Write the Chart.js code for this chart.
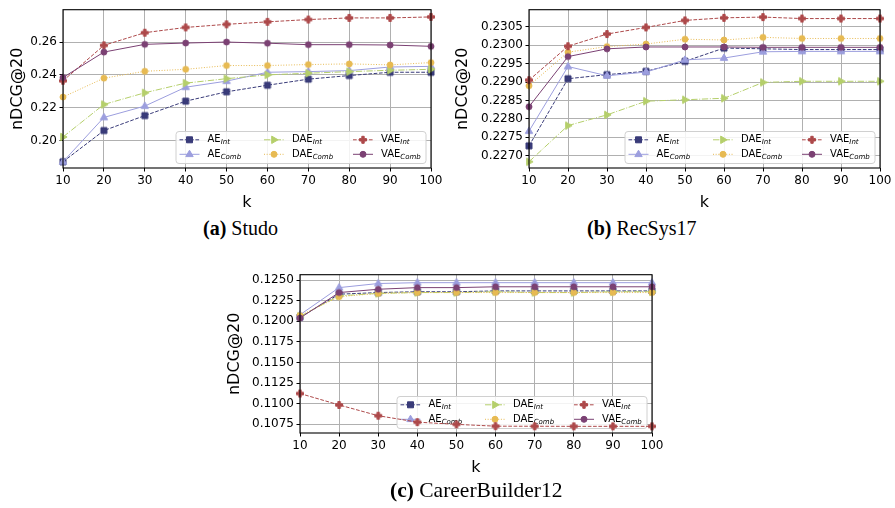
<!DOCTYPE html>
<html>
<head>
<meta charset="utf-8">
<script src="https://cdn.jsdelivr.net/npm/chart.js@4.4.0/dist/chart.umd.min.js"></script>
<style>
  body { margin: 0; background: #fff; width: 895px; height: 508px; position: relative; overflow: hidden; }
  canvas { position: absolute; }
  .caption {
    position: absolute;
    font-family: "Liberation Serif", "Times New Roman", serif;
    font-size: 20px;
    line-height: 20px;
    white-space: nowrap;
    color: #000;
  }
</style>
</head>
<body>
<canvas id="chart-studo" width="445" height="215" style="left:0;top:0"></canvas>
<canvas id="chart-recsys" width="445" height="215" style="left:450px;top:0"></canvas>
<canvas id="chart-career" width="445" height="215" style="left:222px;top:265px"></canvas>
<div class="caption" style="left:203px;top:218px"><b>(a)</b> Studo</div>
<div class="caption" style="left:587px;top:218px"><b>(b)</b> RecSys17</div>
<div class="caption" style="left:390px;top:480px;font-size:21.5px;line-height:21.5px"><b>(c)</b> CareerBuilder12</div>

<script>
// data
const kValues = [10, 20, 30, 40, 50, 60, 70, 80, 90, 100];
const seriesBase = ['AE', 'AE', 'DAE', 'DAE', 'VAE', 'VAE'];
const seriesSub = ['Int', 'Comb', 'Int', 'Comb', 'Int', 'Comb'];

// (a) Studo
const studoAeInt = [0.1871, 0.2061, 0.2152, 0.2240, 0.2297, 0.2337, 0.2374, 0.2396, 0.2416, 0.2416];
const studoAeComb = [0.1871, 0.2141, 0.2210, 0.2325, 0.2362, 0.2416, 0.2420, 0.2426, 0.2448, 0.2452];
const studoDaeInt = [0.2022, 0.2220, 0.2291, 0.2350, 0.2377, 0.2400, 0.2410, 0.2420, 0.2428, 0.2434];
const studoDaeComb = [0.2265, 0.2380, 0.2422, 0.2434, 0.2457, 0.2457, 0.2463, 0.2467, 0.2461, 0.2475];
const studoVaeInt = [0.2364, 0.2580, 0.2657, 0.2689, 0.2708, 0.2723, 0.2737, 0.2747, 0.2747, 0.2753];
const studoVaeComb = [0.2384, 0.2539, 0.2586, 0.2594, 0.2600, 0.2593, 0.2584, 0.2584, 0.2582, 0.2574];
const studoTicks = [0.20, 0.22, 0.24, 0.26];

// (b) RecSys17
const recsysAeInt = [0.22727, 0.22909, 0.22920, 0.22929, 0.22956, 0.22992, 0.22990, 0.22988, 0.22988, 0.22988];
const recsysAeComb = [0.22767, 0.22942, 0.22917, 0.22927, 0.22960, 0.22965, 0.22982, 0.22983, 0.22983, 0.22983];
const recsysDaeInt = [0.22684, 0.22782, 0.22811, 0.22848, 0.22852, 0.22856, 0.22899, 0.22902, 0.22902, 0.22902];
const recsysDaeComb = [0.22890, 0.22981, 0.22996, 0.23003, 0.23016, 0.23014, 0.23021, 0.23018, 0.23018, 0.23018];
const recsysVaeInt = [0.22905, 0.22997, 0.23030, 0.23048, 0.23067, 0.23074, 0.23076, 0.23072, 0.23072, 0.23072];
const recsysVaeComb = [0.22833, 0.22969, 0.22990, 0.22995, 0.22995, 0.22995, 0.22994, 0.22994, 0.22994, 0.22994];
const recsysTicks = [0.2270, 0.2275, 0.2280, 0.2285, 0.2290, 0.2295, 0.2300, 0.2305];

// (c) CareerBuilder12
const careerAeInt = [0.1205, 0.1233, 0.1235, 0.1236, 0.1236, 0.1237, 0.1237, 0.1237, 0.1237, 0.1237];
const careerAeComb = [0.1208, 0.1241, 0.1246, 0.1247, 0.1247, 0.1247, 0.1247, 0.1247, 0.1247, 0.1247];
const careerDaeInt = [0.1206, 0.1231, 0.1234, 0.1235, 0.1235, 0.1236, 0.1235, 0.1235, 0.1236, 0.1236];
const careerDaeComb = [0.1207, 0.1230, 0.1234, 0.1235, 0.1235, 0.1235, 0.1235, 0.1235, 0.1235, 0.1235];
const careerVaeInt = [0.11123, 0.10984, 0.10853, 0.10775, 0.10748, 0.10726, 0.10725, 0.10724, 0.10724, 0.10724];
const careerVaeComb = [0.1204, 0.1235, 0.1239, 0.1241, 0.1241, 0.1242, 0.1242, 0.1242, 0.1242, 0.1242];
const careerTicks = [0.1075, 0.1100, 0.1125, 0.1150, 0.1175, 0.1200, 0.1225, 0.1250];

// styles
const G_FONT = '"DejaVu Sans", Arial, sans-serif';
const gStyles = [
  { color: '#393b79', dash: [3.7, 1.6], marker: 'square' },
  { color: '#9c9ede', dash: [], marker: 'triUp' },
  { color: '#b5cf6b', dash: [6.4, 1.6, 1, 1.6], marker: 'triRight' },
  { color: '#e7ba52', dash: [1, 1.65], marker: 'circle' },
  { color: '#ad494a', dash: [3.7, 1.6], marker: 'plus' },
  { color: '#7b4173', dash: [], marker: 'circle' },
];

// draw one marker shape
function drawMarker(ctx, type, x, y, color) {
  ctx.save();
  ctx.fillStyle = color;
  ctx.strokeStyle = color;
  ctx.lineWidth = 1;
  ctx.setLineDash([]);
  ctx.beginPath();
  if (type === 'square') {
    ctx.rect(x - 3, y - 3, 6, 6);
  } else if (type === 'circle') {
    ctx.arc(x, y, 3, 0, Math.PI * 2);
  } else if (type === 'triUp') {
    ctx.moveTo(x, y - 4.1);
    ctx.lineTo(x + 3.7, y + 2.3);
    ctx.lineTo(x - 3.7, y + 2.3);
    ctx.closePath();
  } else if (type === 'triRight') {
    ctx.moveTo(x + 4.1, y);
    ctx.lineTo(x - 2.3, y - 3.7);
    ctx.lineTo(x - 2.3, y + 3.7);
    ctx.closePath();
  } else if (type === 'plus') {
    const a = 3.5, b = 1.2;
    ctx.moveTo(x - b, y - a);
    ctx.lineTo(x + b, y - a);
    ctx.lineTo(x + b, y - b);
    ctx.lineTo(x + a, y - b);
    ctx.lineTo(x + a, y + b);
    ctx.lineTo(x + b, y + b);
    ctx.lineTo(x + b, y + a);
    ctx.lineTo(x - b, y + a);
    ctx.lineTo(x - b, y + b);
    ctx.lineTo(x - a, y + b);
    ctx.lineTo(x - a, y - b);
    ctx.lineTo(x - b, y - b);
    ctx.closePath();
  }
  ctx.fill();
  ctx.stroke();
  ctx.restore();
}

// marker image for chart.js pointStyle
function makeMarkerCanvas(type, color) {
  const vCanvas = document.createElement('canvas');
  vCanvas.width = 12;
  vCanvas.height = 12;
  drawMarker(vCanvas.getContext('2d'), type, 6, 6, color);
  return vCanvas;
}

// axes frame
const framePlugin = {
  id: 'frame',
  afterDatasetsDraw(chart) {
    const { ctx, chartArea: a } = chart;
    ctx.save();
    ctx.strokeStyle = '#000';
    ctx.lineWidth = 1.1;
    ctx.strokeRect(a.left, a.top, a.right - a.left, a.bottom - a.top);
    ctx.restore();
  },
};

// legend in 3 columns, lower right (under the lines, over the grid)
const boxLegendPlugin = {
  id: 'boxLegend',
  beforeDatasetsDraw(chart) {
    const { ctx, chartArea: a } = chart;
    const w = 250, h = 32;
    const L = a.right - 5 - w, T = a.bottom - 4.5 - h;
    ctx.save();
    ctx.beginPath();
    ctx.roundRect(L, T, w, h, 3);
    ctx.fillStyle = 'rgba(255,255,255,0.85)';
    ctx.fill();
    ctx.strokeStyle = '#d0d0d0';
    ctx.lineWidth = 1;
    ctx.stroke();
    const colX = [3.5, 88, 177];
    const rowY = [8.3, 22.8];
    for (let i = 0; i < 6; i++) {
      const s = gStyles[i];
      const x0 = L + colX[Math.floor(i / 2)];
      const y0 = T + rowY[i % 2];
      ctx.beginPath();
      ctx.setLineDash(s.dash);
      ctx.strokeStyle = s.color;
      ctx.lineWidth = 1;
      ctx.moveTo(x0, y0);
      ctx.lineTo(x0 + 20, y0);
      ctx.stroke();
      ctx.setLineDash([]);
      drawMarker(ctx, s.marker, x0 + 10, y0, s.color);
      ctx.fillStyle = '#000';
      ctx.textBaseline = 'middle';
      ctx.textAlign = 'left';
      ctx.font = '10px ' + G_FONT;
      ctx.fillText(seriesBase[i], x0 + 28, y0);
      const bw = ctx.measureText(seriesBase[i]).width;
      ctx.font = 'italic 7px ' + G_FONT;
      ctx.fillText(seriesSub[i], x0 + 28 + bw, y0 + 2.5);
    }
    ctx.restore();
  },
};

function buildChart(pCanvasId, pSeries, pTicks, pMin, pMax, pDecimals, pLayout) {
  const vDatasets = pSeries.map((values, i) => ({
    label: seriesBase[i] + '_' + seriesSub[i],
    data: values.map((v, j) => ({ x: kValues[j], y: v })),
    borderColor: gStyles[i].color,
    backgroundColor: gStyles[i].color,
    borderWidth: 1,
    borderDash: gStyles[i].dash,
    pointStyle: makeMarkerCanvas(gStyles[i].marker, gStyles[i].color),
    pointRadius: 4,
    tension: 0,
    clip: false,
    order: 5 - i,
  }));

  const vTickFont = { family: G_FONT, size: 12 };
  const vTitleFont = { family: G_FONT, size: 16 };
  const vGrid = { color: '#b0b0b0', lineWidth: 1, tickColor: '#000', tickLength: 3.5, tickWidth: 1 };

  return new Chart(document.getElementById(pCanvasId), {
    type: 'line',
    data: { datasets: vDatasets },
    options: {
      responsive: false,
      animation: false,
      events: [],
      layout: { autoPadding: false, padding: { top: pLayout.top, right: pLayout.right, left: 0, bottom: 0 } },
      plugins: { legend: { display: false }, tooltip: { enabled: false } },
      scales: {
        x: {
          type: 'linear',
          min: 10,
          max: 100,
          afterBuildTicks: (axis) => { axis.ticks = kValues.map((v) => ({ value: v })); },
          afterFit: (axis) => { axis.height = 47; },
          ticks: { autoSkip: false, maxRotation: 0, padding: 2.5, color: '#000', font: vTickFont },
          grid: vGrid,
          border: { display: false },
          title: { display: true, text: 'k', color: '#000', font: vTitleFont, padding: { top: 0, bottom: 2.4 } },
        },
        y: {
          type: 'linear',
          min: pMin,
          max: pMax,
          afterBuildTicks: (axis) => { axis.ticks = pTicks.map((v) => ({ value: v })); },
          afterFit: (axis) => { axis.width = pLayout.yWidth; },
          ticks: { padding: 2.5, color: '#000', font: vTickFont, callback: (v) => Number(v).toFixed(pDecimals) },
          grid: vGrid,
          border: { display: false },
          title: { display: true, text: 'nDCG@20', color: '#000', font: vTitleFont, padding: { top: pLayout.titlePad, bottom: 0 } },
        },
      },
    },
    plugins: [framePlugin, boxLegendPlugin],
  });
}

buildChart('chart-studo',
  [studoAeInt, studoAeComb, studoDaeInt, studoDaeComb, studoVaeInt, studoVaeComb],
  studoTicks, 0.1833, 0.2797, 2, { top: 6, right: 14, yWidth: 63, titlePad: 8.4 });

buildChart('chart-recsys',
  [recsysAeInt, recsysAeComb, recsysDaeInt, recsysDaeComb, recsysVaeInt, recsysVaeComb],
  recsysTicks, 0.22667, 0.23096, 4, { top: 6, right: 15, yWidth: 79, titlePad: 3.4 });

buildChart('chart-career',
  [careerAeInt, careerAeComb, careerDaeInt, careerDaeComb, careerVaeInt, careerVaeComb],
  careerTicks, 0.10643, 0.12567, 4, { top: 6, right: 15, yWidth: 78, titlePad: 2.9 });
</script>
</body>
</html>
